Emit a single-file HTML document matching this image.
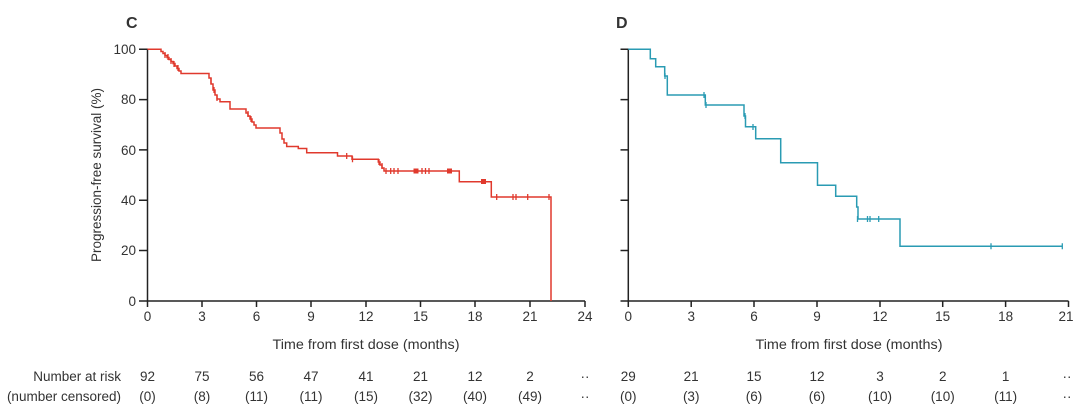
<!DOCTYPE html>
<html><head><meta charset="utf-8"><style>
html,body{margin:0;padding:0;background:#fff;}
svg{display:block;}
text{font-family:"Liberation Sans",sans-serif;fill:#333;}
</style></head><body>
<svg width="1080" height="414" viewBox="0 0 1080 414" xmlns="http://www.w3.org/2000/svg">
<!-- Panel labels -->
<text x="126" y="28" font-size="16" font-weight="bold" fill="#222">C</text>
<text x="616" y="28" font-size="16" font-weight="bold" fill="#222">D</text>

<!-- Left axes -->
<g stroke="#222" stroke-width="1.5" fill="none">
<path d="M147.5,48.5 V301 H585"/>
<path d="M139,49.3 H147.5 M139,99.6 H147.5 M139,149.9 H147.5 M139,200.2 H147.5 M139,250.5 H147.5 M139,301 H147.5"/>
<path d="M147.5,301 v6 M202,301 v6 M256.5,301 v6 M311,301 v6 M366,301 v6 M420.5,301 v6 M475,301 v6 M530,301 v6 M585,301 v6"/>
</g>
<g font-size="13.5" text-anchor="end">
<text x="136" y="54">100</text>
<text x="136" y="104">80</text>
<text x="136" y="155">60</text>
<text x="136" y="205">40</text>
<text x="136" y="255">20</text>
<text x="136" y="306">0</text>
</g>
<g font-size="13.5" text-anchor="middle">
<text x="147.5" y="321">0</text>
<text x="202" y="321">3</text>
<text x="256.5" y="321">6</text>
<text x="311" y="321">9</text>
<text x="366" y="321">12</text>
<text x="420.5" y="321">15</text>
<text x="475" y="321">18</text>
<text x="530" y="321">21</text>
<text x="585" y="321">24</text>
</g>
<text x="272.5" y="349" font-size="14" textLength="187" lengthAdjust="spacingAndGlyphs">Time from first dose (months)</text>
<text transform="translate(101,262) rotate(-90)" font-size="14" textLength="174" lengthAdjust="spacingAndGlyphs">Progression-free survival (%)</text>

<!-- Left curve -->
<path fill="none" stroke="#e0392d" stroke-width="1.5" d="M147.5,49.3 H161 V51.5 H163 V53.5 H165 V55.5 H167 V57.5 H169 V59.5 H171 V61.5 H173 V63.5 H175 V66 H177 V68.5 H179 V71 H181 V73.5 H209 V78 H211 V84 H213 V90 H215 V95 H217 V99 H220 V101.7 H230 V109 H246 V113 H248 V116 H250 V119 H252 V122 H254 V125 H256 V128 H280 V133 H282 V139 H284 V143 H286.7 V146.5 H298.3 V148.5 H306.7 V152.7 H337.5 V156 H352 V159.3 H378.3 V162 H380 V165 H382 V168 H384 V171 H459.3 V181.7 H491.3 V197 H551 V301"/>
<g stroke="#e0392d" stroke-width="1.3">
<path d="M165,52 v6 M168,54 v6 M171,58 v6 M174,61 v6 M178,65 v6 M211,78 v6 M214,87 v6 M217,95 v6 M248,111 v6 M251,116 v6 M346.7,153 v6 M352.5,156.3 v6 M379,159 v6 M382,163 v6 M386,168 v6 M390.7,168 v6 M394,168 v6 M398,168 v6 M422,168 v6 M425.5,168 v6 M429,168 v6 M496.7,194 v6 M513,194 v6 M516,194 v6 M527.7,194 v6 M549,194 v6"/>
</g>
<g fill="#e0392d">
<rect x="413.5" y="168.5" width="5" height="5"/>
<rect x="447" y="168.5" width="5" height="5"/>
<rect x="481" y="179" width="5" height="5"/>
</g>

<!-- Right axes -->
<g stroke="#222" stroke-width="1.5" fill="none">
<path d="M628.3,48.5 V301 H1068.5"/>
<path d="M620.5,49.3 H628.3 M620.5,99.6 H628.3 M620.5,149.9 H628.3 M620.5,200.2 H628.3 M620.5,250.5 H628.3 M620.5,301 H628.3"/>
<path d="M628.3,301 v6 M691.2,301 v6 M754,301 v6 M817,301 v6 M880,301 v6 M942.7,301 v6 M1005.6,301 v6 M1068.5,301 v6"/>
</g>
<g font-size="13.5" text-anchor="middle">
<text x="628.3" y="321">0</text>
<text x="691.2" y="321">3</text>
<text x="754" y="321">6</text>
<text x="817" y="321">9</text>
<text x="880" y="321">12</text>
<text x="942.7" y="321">15</text>
<text x="1005.6" y="321">18</text>
<text x="1066" y="321">21</text>
</g>
<text x="755.5" y="349" font-size="14" textLength="187" lengthAdjust="spacingAndGlyphs">Time from first dose (months)</text>

<!-- Right curve -->
<path fill="none" stroke="#2a9bb3" stroke-width="1.5" d="M628.3,49.3 H650.3 V58.7 H655.7 V66.7 H664.7 V76 H667.3 V95 H705.3 V105 H744 V116 H745.5 V126.7 H755.7 V138.7 H780.7 V162.7 H817.5 V185.3 H835.7 V196.3 H856.7 V207 H858 V219 H900 V246.3 H1062.3"/>
<g stroke="#2a9bb3" stroke-width="1.3">
<path d="M665,73 v6 M704,92 v6 M706,102 v6 M745,113 v6 M753,124 v6 M857.5,216 v6 M867.5,216 v6 M870,216 v6 M878.7,216 v6 M991,243.3 v6 M1062.3,243.3 v6"/>
</g>

<!-- Number at risk -->
<g font-size="13.5">
<text x="121" y="381" text-anchor="end">Number at risk</text>
<text x="121" y="401" text-anchor="end">(number censored)</text>
</g>
<g font-size="13.5" text-anchor="middle">
<text x="147.5" y="381">92</text>
<text x="202" y="381">75</text>
<text x="256.5" y="381">56</text>
<text x="311" y="381">47</text>
<text x="366" y="381">41</text>
<text x="420.5" y="381">21</text>
<text x="475" y="381">12</text>
<text x="530" y="381">2</text>
<text x="585" y="381">··</text>
<text x="147.5" y="401">(0)</text>
<text x="202" y="401">(8)</text>
<text x="256.5" y="401">(11)</text>
<text x="311" y="401">(11)</text>
<text x="366" y="401">(15)</text>
<text x="420.5" y="401">(32)</text>
<text x="475" y="401">(40)</text>
<text x="530" y="401">(49)</text>
<text x="585" y="401">··</text>
<text x="628.3" y="381">29</text>
<text x="691.2" y="381">21</text>
<text x="754" y="381">15</text>
<text x="817" y="381">12</text>
<text x="880" y="381">3</text>
<text x="942.7" y="381">2</text>
<text x="1005.6" y="381">1</text>
<text x="1067" y="381">··</text>
<text x="628.3" y="401">(0)</text>
<text x="691.2" y="401">(3)</text>
<text x="754" y="401">(6)</text>
<text x="817" y="401">(6)</text>
<text x="880" y="401">(10)</text>
<text x="942.7" y="401">(10)</text>
<text x="1005.6" y="401">(11)</text>
<text x="1067" y="401">··</text>
</g>
</svg>
</body></html>
